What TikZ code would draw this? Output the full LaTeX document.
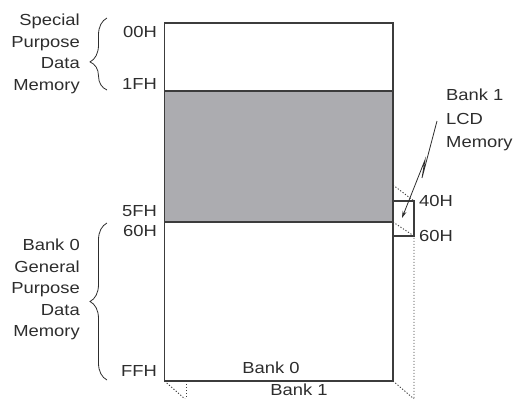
\documentclass[tikz,border=0pt]{standalone}
\usepackage{fontspec}
\setmainfont{Liberation Sans}[FakeStretch=1.15]
\usepackage{xcolor}
\usepackage{tikz}
\usetikzlibrary{arrows.meta, positioning, calc, decorations.pathreplacing}
\definecolor{memdark}{RGB}{45,45,45}
\definecolor{memedge}{RGB}{60,60,60}
\definecolor{memgray}{RGB}{172,172,176}
\tikzset{
  addrR/.style={anchor=east, inner sep=0pt, font=\fontsize{16}{21}\selectfont, text=memdark},
  addrL/.style={anchor=west, inner sep=0pt, font=\fontsize{16}{21}\selectfont, text=memdark},
  caption/.style={inner sep=0pt, font=\fontsize{16}{21.5}\selectfont, text=memdark},
  bankbox/.style={draw=memedge, line width=1.8pt},
  lcdbox/.style={draw=memedge, line width=1.3pt},
  hidden/.style={draw=memedge, line width=0.9pt, dash pattern=on 1.2pt off 1.8pt},
  bracket/.style={draw=memdark, line width=0.8pt,
    decorate, decoration={brace, amplitude=17pt}},
  arrow/.style={-{Stealth[length=7pt, width=4pt]}, line width=0.8pt, color=memdark}
}

\begin{document}
\begin{tikzpicture}[x=1pt, y=-1pt]
  \useasboundingbox (0,0) rectangle (515,399);

  % Bank 0 corners
  \coordinate (TL) at (164.5,23);
  \coordinate (BR) at (393,381);

  % Gray region and box
  \fill[memgray] (164.5,91) rectangle (393,222);
  \draw[memedge, line width=1.3pt] (164.5,91) -- (393,91);
  \draw[memedge, line width=1.5pt] (164.5,222) -- (393,222);
  \draw[bankbox] (TL) rectangle (BR);

  % Bank 1 outline behind
  \draw[hidden] (393,185) -- (414,201);
  \draw[hidden] (393,222) -- (414,236) -- (414,399);
  \draw[hidden] (BR) -- (414,399);
  \draw[hidden] (164.5,381) -- (185,399);
  \draw[hidden] (186,381) -- (186,399);
  \draw[lcdbox] (393,201) rectangle (414,236);

  % Addresses
  \node (a00) [addrR] at (157,32) {00H};
  \node (a1F) [addrR] at (157,84) {1FH};
  \node (a5F) [addrR] at (157,211) {5FH};
  \node (a60) [addrR] at (157,230.5) {60H};
  \node (aFF) [addrR] at (157,371) {FFH};
  \node (b40) [addrL] at (419,201) {40H};
  \node (b60) [addrL] at (419,236) {60H};

  % Region captions
  \node (spmem) [caption, align=right, anchor=east] at (80,54) {Special\\Purpose\\Data\\Memory};
  \node (gpmem) [caption, align=right, anchor=east] at (80,289.5) {Bank 0\\General\\Purpose\\Data\\Memory};
  \node (lcdmem) [caption, align=left, anchor=north west, font=\fontsize{16}{23.5}\selectfont] at (446,89) {Bank 1\\LCD\\Memory};
  \node (bank0) [caption] at (271,368) {Bank 0};
  \node (bank1) [caption] at (299,390) {Bank 1};

  % Braces
  \draw[bracket, decoration={aspect=0.39}] (107,90) -- (107,18);
  \draw[bracket] (107,380) -- (107,223);

  % Zigzag pointer
  \coordinate (zigTop) at (437,121);
  \coordinate (zigEnd) at (402,218);
  \draw[arrow] (zigTop) -- (422,178) -- (425,160) -- (zigEnd);
\end{tikzpicture}
\end{document}
